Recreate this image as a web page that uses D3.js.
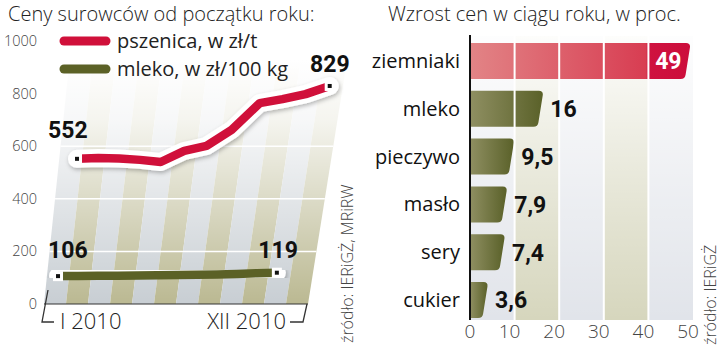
<!DOCTYPE html>
<html>
<head>
<meta charset="utf-8">
<script src="https://cdn.jsdelivr.net/npm/d3@7/dist/d3.min.js"></script>
<style>
body { margin: 0; background: #fff; }
svg { display: block; font-family: "Open Sans", sans-serif; }
</style>
</head>
<body>
<svg id="chart" width="720" height="346"></svg>
<script>
// dane - lewy wykres
var months = ["I 2010", "II", "III", "IV", "V", "VI", "VII", "VIII", "IX", "X", "XI", "XII 2010"];
var pszenica = [552, 555, 553, 548, 540, 582, 601, 662, 764, 779, 798, 829];
var mleko = [106, 106, 107, 107, 108, 109, 110, 111, 112, 114, 117, 119];
var yTicks = [0, 200, 400, 600, 800, 1000];
var gridTicks = [200, 400, 600];

// dane - prawy wykres
var categories = ["ziemniaki", "mleko", "pieczywo", "masło", "sery", "cukier"];
var growth = [49, 16, 9.5, 7.9, 7.4, 3.6];
var growthLabels = ["49", "16", "9,5", "7,9", "7,4", "3,6"];
var xTicks = [0, 10, 20, 30, 40, 50];

var red = "#d0103a";
var olive = "#5b6126";
var numFont = "Roboto, sans-serif";

var svg = d3.select("#chart");
var defs = svg.append("defs");

// gradienty
var fadeL = defs.append("linearGradient").attr("id", "fadeL")
  .attr("gradientUnits", "userSpaceOnUse").attr("x1", 0).attr("x2", 0).attr("y1", 60).attr("y2", 300);
fadeL.append("stop").attr("offset", 0).attr("stop-color", "#fff").attr("stop-opacity", 1);
fadeL.append("stop").attr("offset", 0.25).attr("stop-color", "#fff").attr("stop-opacity", 0.85);
fadeL.append("stop").attr("offset", 1).attr("stop-color", "#fff").attr("stop-opacity", 0);

var fadeR = defs.append("linearGradient").attr("id", "fadeR")
  .attr("gradientUnits", "userSpaceOnUse").attr("x1", 0).attr("x2", 0).attr("y1", 36).attr("y2", 320);
fadeR.append("stop").attr("offset", 0).attr("stop-color", "#fff").attr("stop-opacity", 0.95);
fadeR.append("stop").attr("offset", 0.5).attr("stop-color", "#fff").attr("stop-opacity", 0.45);
fadeR.append("stop").attr("offset", 1).attr("stop-color", "#fff").attr("stop-opacity", 0);

var gOlive = defs.append("linearGradient").attr("id", "gOlive");
gOlive.append("stop").attr("offset", 0).attr("stop-color", "#8f8f62");
gOlive.append("stop").attr("offset", 1).attr("stop-color", "#5a6129");

var gRed = defs.append("linearGradient").attr("id", "gRed");
gRed.append("stop").attr("offset", 0).attr("stop-color", "#e28486");
gRed.append("stop").attr("offset", 0.8).attr("stop-color", "#d83d52");
gRed.append("stop").attr("offset", 0.81).attr("stop-color", "#cf1240");
gRed.append("stop").attr("offset", 1).attr("stop-color", "#cc0d3b");

var shadow = defs.append("filter").attr("id", "shadow")
  .attr("x", "-10%").attr("y", "-50%").attr("width", "120%").attr("height", "200%");
shadow.append("feDropShadow").attr("dx", 1).attr("dy", 2).attr("stdDeviation", 2)
  .attr("flood-color", "#000").attr("flood-opacity", 0.28);

// ================= LEWY WYKRES =================
var y = d3.scaleLinear().domain([0, 1000]).range([304, 41]);
var xm = d3.scaleLinear().domain([0, months.length - 1]).range([53.5, 268]);
var col = d3.scaleLinear().domain([0, months.length]).range([0, 1]);

// pochylenie tla i linii
function edgeL(h) { return 44 + 0.105 * h; }
function edgeR(h) { return 308 + 0.16 * h; }
function colX(i, h) { return edgeL(h) + col(i) * (edgeR(h) - edgeL(h)); }
function px(i, v) {
  var h = y(0) - y(v);
  return xm(i) + (0.162 + 0.121 * i / (months.length - 1)) * h;
}

var topH = y(0) - 45;
var left = svg.append("g");

left.selectAll("path.stripe")
  .data(months)
  .enter()
  .append("path")
  .attr("class", "stripe")
  .attr("d", function(d, i) {
    return "M" + colX(i, 0) + "," + y(0) + "L" + colX(i + 1, 0) + "," + y(0) +
      "L" + colX(i + 1, topH) + "," + (y(0) - topH) + "L" + colX(i, topH) + "," + (y(0) - topH) + "Z";
  })
  .attr("fill", function(d, i) { return i % 2 ? "#bcba94" : "#c9cfd4"; });

left.append("rect")
  .attr("x", 40).attr("y", 40).attr("width", 320).attr("height", y(0) - 40)
  .attr("fill", "url(#fadeL)");

left.selectAll("line.grid")
  .data(gridTicks)
  .enter()
  .append("line")
  .attr("class", "grid")
  .attr("x1", function(d) { return edgeL(y(0) - y(d)); })
  .attr("x2", function(d) { return edgeR(y(0) - y(d)); })
  .attr("y1", function(d) { return y(d); })
  .attr("y2", function(d) { return y(d); })
  .attr("stroke", "#fff").attr("stroke-width", 1.5);

// os dolna
left.append("line")
  .attr("x1", edgeL(0)).attr("x2", edgeR(0)).attr("y1", y(0)).attr("y2", y(0))
  .attr("stroke", "#333").attr("stroke-width", 1.2);
left.append("path")
  .attr("d", "M48,290L42,322H54M290,322H303L307,304")
  .attr("fill", "none").attr("stroke", "#333").attr("stroke-width", 1.3);

left.selectAll("text.ytick")
  .data(yTicks)
  .enter()
  .append("text")
  .attr("class", "ytick")
  .attr("x", 37)
  .attr("y", function(d) { return y(d); })
  .attr("dy", "0.35em")
  .attr("text-anchor", "end")
  .attr("font-size", "14.5px")
  .attr("font-weight", 300)
  .attr("fill", "#444")
  .text(function(d) { return d; });

left.append("text").attr("x", 60).attr("y", 329)
  .attr("font-size", "22px").attr("font-weight", 300).attr("fill", "#222")
  .text(months[0]);
left.append("text").attr("x", 286).attr("y", 329).attr("text-anchor", "end")
  .attr("font-size", "22px").attr("font-weight", 300).attr("fill", "#222")
  .text(months[months.length - 1]);

// linie
var line = d3.line()
  .x(function(d, i) { return px(i, d); })
  .y(function(d) { return y(d); });

function drawSeries(data, color) {
  var g = left.append("g");
  g.append("path").datum(data)
    .attr("d", line)
    .attr("fill", "none").attr("stroke", "#fff").attr("stroke-width", 18)
    .attr("stroke-linecap", "round").attr("stroke-linejoin", "round")
    .attr("filter", "url(#shadow)");
  g.append("path").datum(data)
    .attr("d", line)
    .attr("fill", "none").attr("stroke", color).attr("stroke-width", 8.5)
    .attr("stroke-linejoin", "round");
  var ends = [0, data.length - 1];
  g.selectAll("rect")
    .data(ends)
    .enter()
    .append("rect")
    .attr("x", function(i) { return px(i, data[i]) - 3.5; })
    .attr("y", function(i) { return y(data[i]) - 3.5; })
    .attr("width", 7).attr("height", 7)
    .attr("fill", "#111").attr("stroke", "#fff").attr("stroke-width", 3);
}
drawSeries(mleko, olive);
drawSeries(pszenica, red);

function valueLabel(x, yy, txt, anchor) {
  left.append("text").attr("x", x).attr("y", yy).attr("text-anchor", anchor || "start")
    .attr("font-family", numFont).attr("font-weight", 700).attr("font-size", "23px")
    .attr("fill", "#111").text(txt);
}
var last = months.length - 1;
valueLabel(px(0, pszenica[0]) - 29, y(pszenica[0]) - 21, pszenica[0]);
valueLabel(px(last, pszenica[last]) + 20, y(pszenica[last]) - 14, pszenica[last], "end");
valueLabel(px(0, mleko[0]) - 10, y(mleko[0]) - 18, mleko[0]);
valueLabel(px(last, mleko[last]) + 21, y(mleko[last]) - 15, mleko[last], "end");

// tytul i legenda
svg.append("text").attr("x", 8).attr("y", 21)
  .attr("font-size", "20px").attr("font-weight", 300).attr("fill", "#222")
  .text("Ceny surowców od początku roku:");

var legend = [["pszenica, w zł/t", red, 41], ["mleko, w zł/100 kg", olive, 69]];
legend.forEach(function(l) {
  svg.append("line").attr("x1", 64).attr("x2", 106).attr("y1", l[2]).attr("y2", l[2])
    .attr("stroke", l[1]).attr("stroke-width", 9).attr("stroke-linecap", "round");
  svg.append("text").attr("x", 117).attr("y", l[2]).attr("dy", "0.35em")
    .attr("font-size", "20px").attr("fill", "#222").text(l[0]);
});

svg.append("text")
  .attr("transform", "translate(353,343) rotate(-90)")
  .attr("font-size", "16px").attr("font-weight", 300).attr("fill", "#444")
  .text("źródło: IERiGŻ, MRiRW");

// ================= PRAWY WYKRES =================
var xb = d3.scaleLinear().domain([0, 50]).range([470, 693]);
var yb = d3.scaleBand().domain(categories).range([37, 324])
  .paddingInner(0.247).paddingOuter(0.1235);
var right = svg.append("g");

right.selectAll("rect.col")
  .data(xTicks.slice(0, -1))
  .enter()
  .append("rect")
  .attr("class", "col")
  .attr("x", function(d) { return xb(d); })
  .attr("width", function(d) { return xb(d + 10) - xb(d); })
  .attr("y", 36).attr("height", 284)
  .attr("fill", function(d, i) { return i % 2 ? "#d6d6bd" : "#e1e4ea"; });

right.append("rect").attr("x", xb(0)).attr("y", 36)
  .attr("width", xb(50) - xb(0)).attr("height", 284).attr("fill", "url(#fadeR)");

function barPath(d) {
  var x0 = xb(0), x1 = xb(d), y0 = yb(categories[growth.indexOf(d)]);
  var y1 = y0 + yb.bandwidth(), r = 4.5;
  var xt = x1 + 2, xbt = x1 - 3.5;
  return "M" + x0 + "," + y0 + "H" + (xt - r) + "Q" + xt + "," + y0 + " " + (xt - 0.6) + "," + (y0 + r) +
    "L" + (xbt + 0.6) + "," + (y1 - r) + "Q" + xbt + "," + y1 + " " + (xbt - r) + "," + y1 + "H" + x0 + "Z";
}

right.selectAll("path.bar")
  .data(growth)
  .enter()
  .append("path")
  .attr("class", "bar")
  .attr("d", barPath)
  .attr("fill", function(d, i) { return i === 0 ? "url(#gRed)" : "url(#gOlive)"; });

right.selectAll("line.sep")
  .data(xTicks.slice(1, -1))
  .enter()
  .append("line")
  .attr("class", "sep")
  .attr("x1", function(d) { return xb(d); })
  .attr("x2", function(d) { return xb(d); })
  .attr("y1", 36).attr("y2", 320)
  .attr("stroke", "#fff").attr("stroke-width", 2);

right.append("line").attr("x1", xb(0)).attr("x2", xb(0)).attr("y1", 35).attr("y2", 320)
  .attr("stroke", "#111").attr("stroke-width", 2);

right.selectAll("text.cat")
  .data(categories)
  .enter()
  .append("text")
  .attr("class", "cat")
  .attr("x", 460)
  .attr("y", function(d) { return yb(d) + yb.bandwidth() / 2; })
  .attr("dy", "0.35em")
  .attr("text-anchor", "end")
  .attr("font-size", "20px")
  .attr("fill", "#111")
  .text(function(d) { return d; });

right.selectAll("text.val")
  .data(growth)
  .enter()
  .append("text")
  .attr("class", "val")
  .attr("x", function(d, i) { return i === 0 ? xb(d) - 7 : xb(d) + 9; })
  .attr("y", function(d, i) { return yb(categories[i]) + yb.bandwidth() / 2; })
  .attr("dy", "0.36em")
  .attr("text-anchor", function(d, i) { return i === 0 ? "end" : "start"; })
  .attr("font-family", numFont)
  .attr("font-weight", 700)
  .attr("font-size", "23px")
  .attr("fill", function(d, i) { return i === 0 ? "#fff" : "#111"; })
  .text(function(d, i) { return growthLabels[i]; });

right.selectAll("text.xtick")
  .data(xTicks)
  .enter()
  .append("text")
  .attr("class", "xtick")
  .attr("x", function(d) { return d === 0 ? xb(d) : xb(d) - 5; })
  .attr("y", 338)
  .attr("text-anchor", "middle")
  .attr("font-size", "19px")
  .attr("font-weight", 300)
  .attr("fill", "#444")
  .text(function(d) { return d; });

svg.append("text").attr("x", 388).attr("y", 21)
  .attr("font-size", "20px").attr("font-weight", 300).attr("fill", "#222")
  .text("Wzrost cen w ciągu roku, w proc.");

svg.append("text")
  .attr("transform", "translate(716,345) rotate(-90)")
  .attr("font-size", "16px").attr("font-weight", 300).attr("fill", "#444")
  .text("źródło: IERiGŻ");
</script>
</body>
</html>
